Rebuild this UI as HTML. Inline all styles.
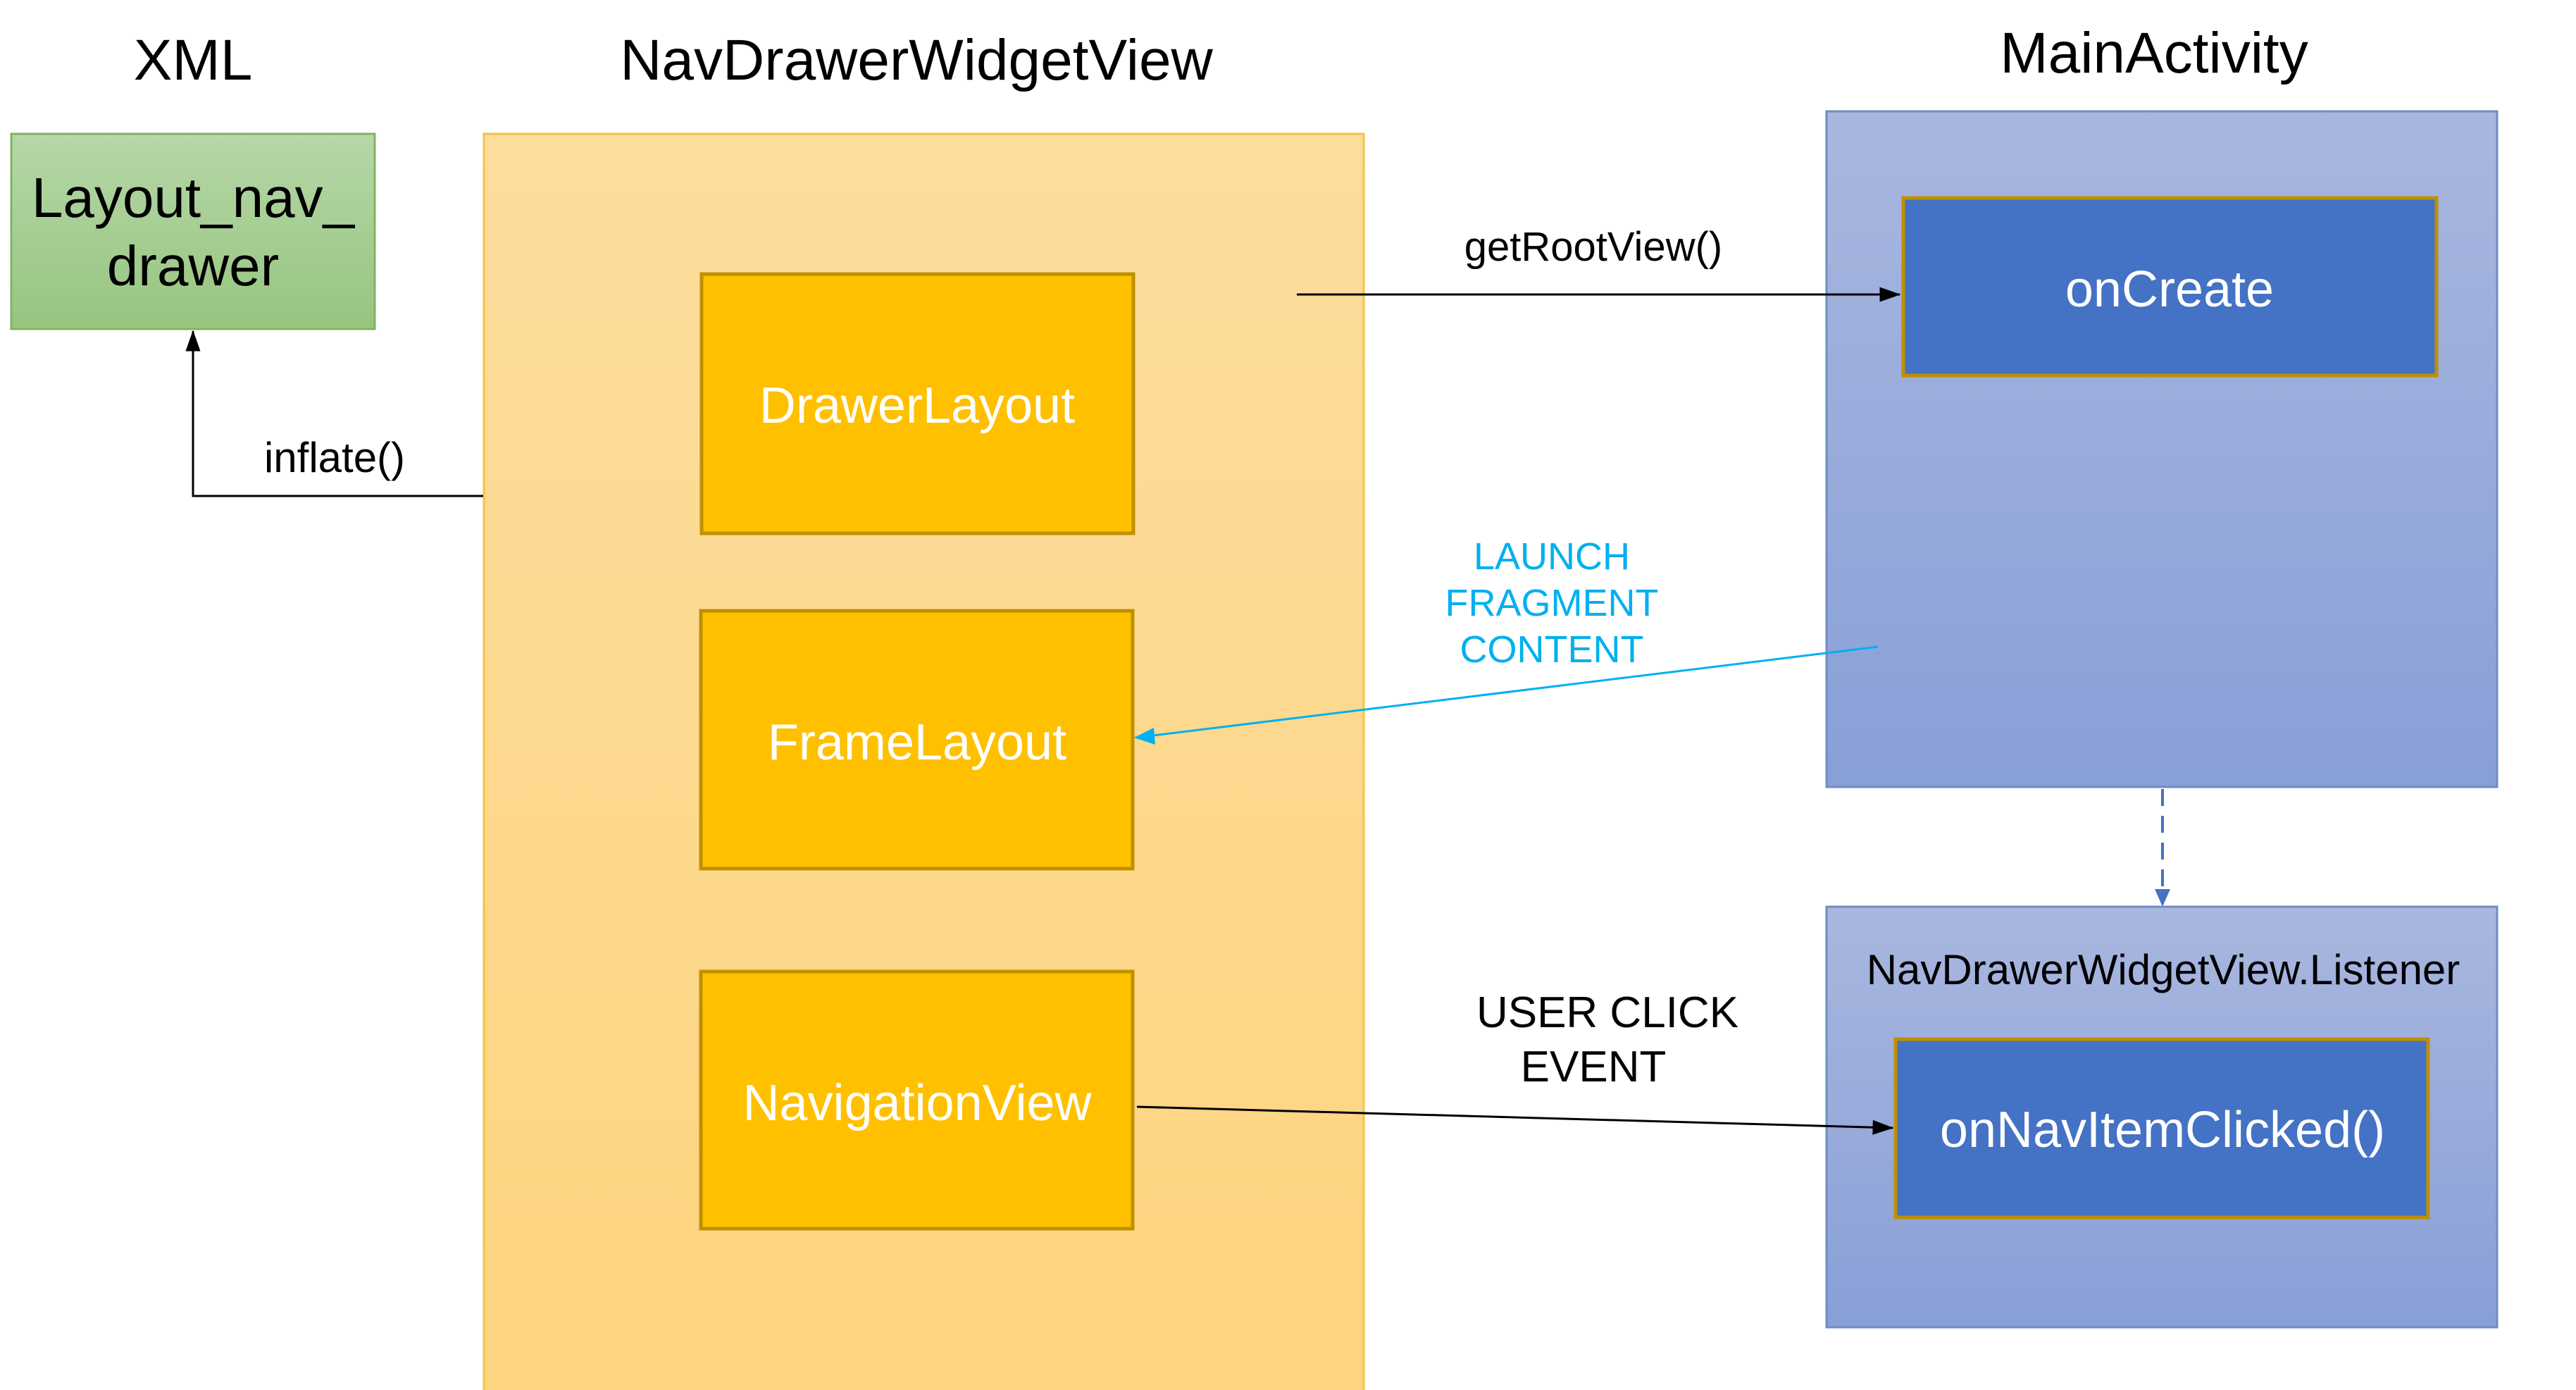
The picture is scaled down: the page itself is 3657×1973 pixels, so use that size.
<!DOCTYPE html>
<html><head><meta charset="utf-8"><style>html,body{margin:0;padding:0;background:#fff}svg{display:block}</style></head>
<body>
<svg width="3657" height="1973" viewBox="0 0 3657 1973" xmlns="http://www.w3.org/2000/svg" font-family="Liberation Sans, DejaVu Sans, sans-serif">
<defs>
<linearGradient id="g" x1="0" y1="0" x2="0" y2="1"><stop offset="0" stop-color="#b6d7a8"/><stop offset="1" stop-color="#97c57f"/></linearGradient>
<linearGradient id="o" x1="0" y1="0" x2="0" y2="1"><stop offset="0" stop-color="#fddd9d"/><stop offset="1" stop-color="#fdd47f"/></linearGradient>
<linearGradient id="b" x1="0" y1="0" x2="0" y2="1"><stop offset="0" stop-color="#a9b7df"/><stop offset="1" stop-color="#889fd7"/></linearGradient>
<marker id="ak" markerWidth="30" markerHeight="30" refX="9.5" refY="5" orient="auto" markerUnits="userSpaceOnUse" viewBox="0 0 10 10"><path d="M0,1.5 L10,5 L0,8.5 z" fill="#000"/></marker>
</defs>
<text x="274" y="113" font-size="82" text-anchor="middle">XML</text>
<text x="1301" y="113" font-size="82" text-anchor="middle">NavDrawerWidgetView</text>
<text x="3058" y="103" font-size="82" text-anchor="middle">MainActivity</text>

<rect x="16" y="190" width="516" height="277" fill="url(#g)" stroke="#82b366" stroke-width="3"/>
<text x="274" y="308" font-size="80" text-anchor="middle">Layout_nav_</text>
<text x="274" y="405" font-size="80" text-anchor="middle">drawer</text>

<rect x="687" y="190" width="1249" height="1790" fill="url(#o)" stroke="#f5c342" stroke-width="3"/>

<g fill="#ffc000" stroke="#bf9000" stroke-width="5">
<rect x="996" y="389" width="613" height="368"/>
<rect x="995" y="867" width="613" height="366"/>
<rect x="995" y="1379" width="613" height="365"/>
</g>
<g fill="#fff" font-size="72" text-anchor="middle">
<text x="1302" y="600">DrawerLayout</text>
<text x="1302" y="1078">FrameLayout</text>
<text x="1302" y="1590">NavigationView</text>
</g>

<rect x="2593" y="158" width="952" height="959" fill="url(#b)" stroke="#6c8ebf" stroke-width="3"/>
<rect x="2593" y="1287" width="952" height="597" fill="url(#b)" stroke="#6c8ebf" stroke-width="3"/>
<rect x="2702" y="281" width="757" height="252" fill="#4472c4" stroke="#bf9000" stroke-width="5"/>
<rect x="2691" y="1475" width="756" height="253" fill="#4472c4" stroke="#bf9000" stroke-width="5"/>
<text x="3080" y="435" font-size="72" fill="#fff" text-anchor="middle">onCreate</text>
<text x="3070" y="1628" font-size="72" fill="#fff" text-anchor="middle">onNavItemClicked()</text>
<text x="3071" y="1397" font-size="60" text-anchor="middle">NavDrawerWidgetView.Listener</text>

<polyline points="686,704 274,704 274,470" fill="none" stroke="#000" stroke-width="3" marker-end="url(#ak)"/>
<text x="475" y="670" font-size="60" text-anchor="middle">inflate()</text>

<line x1="1841" y1="418" x2="2697" y2="418" stroke="#000" stroke-width="3" marker-end="url(#ak)"/>
<text x="2262" y="370" font-size="58" text-anchor="middle">getRootView()</text>

<line x1="2666" y1="918" x2="1612" y2="1047" stroke="#00b0f0" stroke-width="3"/>
<path d="M1610,1047 L1638,1033 L1640,1057 z" fill="#00b0f0"/>
<g fill="#00b0f0" font-size="54" text-anchor="middle">
<text x="2203" y="808">LAUNCH</text>
<text x="2203" y="874">FRAGMENT</text>
<text x="2203" y="940">CONTENT</text>
</g>

<line x1="3070" y1="1120" x2="3070" y2="1265" stroke="#4472c4" stroke-width="4" stroke-dasharray="24,14"/>
<path d="M3059,1262 L3081,1262 L3070,1287 z" fill="#4472c4"/>

<line x1="1614" y1="1571" x2="2687" y2="1601" stroke="#000" stroke-width="3" marker-end="url(#ak)"/>
<g font-size="62" text-anchor="middle">
<text x="2282" y="1458">USER CLICK</text>
<text x="2262" y="1535">EVENT</text>
</g>
</svg>
</body></html>
